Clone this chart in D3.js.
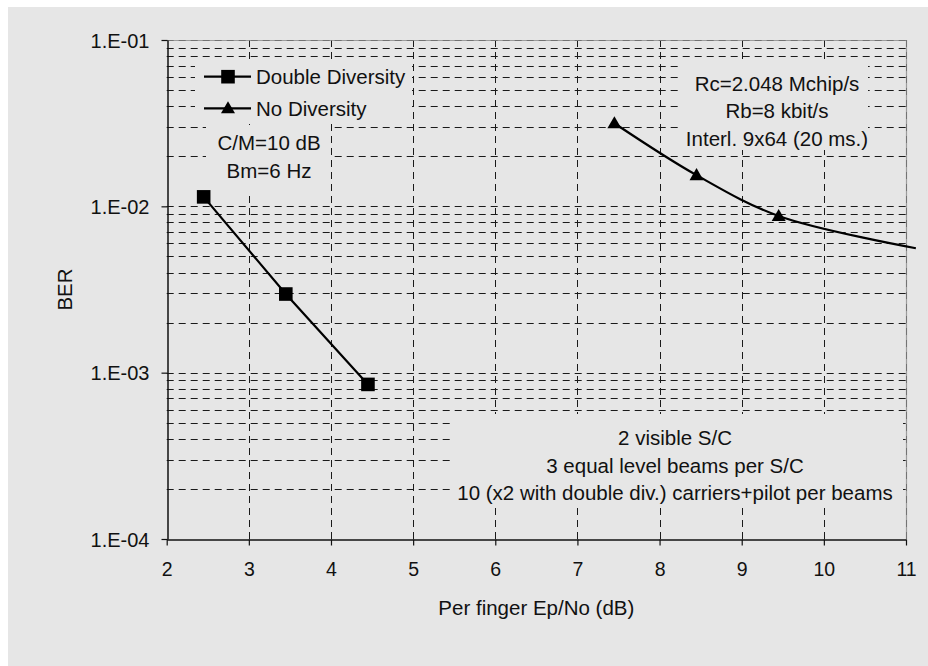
<!DOCTYPE html>
<html>
<head>
<meta charset="utf-8">
<script src="https://cdn.jsdelivr.net/npm/d3@7"></script>
<style>
  html, body { margin: 0; padding: 0; background: #ffffff; }
  svg { display: block; }
  text { font-family: "Liberation Sans", Arial, sans-serif; fill: #111; }
</style>
</head>
<body>
<script>
// ---- data ----
const xTickValues = [2, 3, 4, 5, 6, 7, 8, 9, 10, 11];
const yTickValues = [1e-4, 1e-3, 1e-2, 1e-1];
const yTickLabels = ["1.E-04", "1.E-03", "1.E-02", "1.E-01"];
const doubleDivX = [2.45, 3.45, 4.45];
const doubleDivBER = [0.0114, 0.00297, 0.00085];
const noDivX = [7.45, 8.45, 9.45, 11.12];
const noDivBER = [0.0316, 0.0154, 0.00875, 0.0056];
const seriesNames = ["Double Diversity", "No Diversity"];
const noteTopLeft = ["C/M=10 dB", "Bm=6 Hz"];
const noteTopRight = ["Rc=2.048 Mchip/s", "Rb=8 kbit/s", "Interl. 9x64 (20 ms.)"];
const noteBottom = ["2 visible S/C", "3 equal level beams per S/C", "10 (x2 with double div.) carriers+pilot per beams"];
const xTitle = "Per finger Ep/No (dB)";
const yTitle = "BER";

// ---- layout ----
const W = 928, H = 666;
const m = { left: 166.7, right: 22, top: 40, bottom: 127 };
const bg = "#e6e6e6";

const svg = d3.select("body").append("svg").attr("width", W).attr("height", H);
svg.append("rect").attr("x", 8).attr("y", 7).attr("width", W - 8).attr("height", H - 7).attr("fill", bg);

const x = d3.scaleLinear().domain([2, 11]).range([m.left, W - m.right]);
const y = d3.scaleLog().domain([1e-4, 1e-1]).range([H - m.bottom, m.top]);

// grid
const minorY = [];
for (let e = -4; e < -1; e++) for (let k = 1; k <= 10; k++) minorY.push(k * Math.pow(10, e));
const uniqY = Array.from(new Set(minorY.map(v => +v.toPrecision(3))));
const grid = svg.append("g").attr("stroke", "#1a1a1a").attr("stroke-width", 1).attr("stroke-dasharray", "7,5");
grid.selectAll("line.h").data(uniqY.filter(v => v > 1e-4)).join("line")
  .attr("x1", x(2)).attr("x2", x(11))
  .attr("y1", d => Math.round(y(d)) + 0.5).attr("y2", d => Math.round(y(d)) + 0.5);
grid.selectAll("line.v").data(xTickValues.filter(v => v > 2)).join("line")
  .attr("x1", d => Math.round(x(d)) + 0.5).attr("x2", d => Math.round(x(d)) + 0.5)
  .attr("y1", y(1e-1)).attr("y2", y(1e-4));

// plot border top/right (gray)
svg.append("path")
  .attr("d", `M${x(2)},${Math.round(y(1e-1)) + 0.5}H${Math.round(x(11)) + 0.5}V${y(1e-4)}`)
  .attr("fill", "none").attr("stroke", "#8a8a8a").attr("stroke-width", 1.2).attr("opacity", 0.8);

// text-box masks (cover gridlines behind labels)
const masks = [
  [195, 60, 412, 121],
  [206, 125, 330, 191],
  [678, 62, 868, 150],
  [452, 414, 903, 507]
];
svg.append("g").selectAll("rect").data(masks).join("rect")
  .attr("x", d => d[0]).attr("y", d => d[1])
  .attr("width", d => d[2] - d[0]).attr("height", d => d[3] - d[1])
  .attr("fill", bg);

const FF = '"Liberation Sans", Arial, sans-serif';
// axes
const xAxis = d3.axisBottom(x).tickValues(xTickValues).tickSize(6).tickSizeOuter(0).tickFormat(d3.format("d"));
const gx = svg.append("g").attr("transform", `translate(0,${Math.round(y(1e-4)) + 0.5})`).call(xAxis);
gx.select(".domain").attr("stroke", "#111").attr("stroke-width", 1.5);
gx.selectAll(".tick line").attr("stroke", "#111").attr("stroke-width", 1.2);
gx.selectAll(".tick text").attr("font-size", 19.5).attr("dy", "1.42em").attr("fill", "#111")
  .style("font-family", FF);

const yAxis = d3.axisLeft(y).tickValues(yTickValues).tickSize(6).tickSizeOuter(0)
  .tickFormat((d, i) => yTickLabels[i]);
const gy = svg.append("g").attr("transform", `translate(${Math.round(x(2)) + 0.5},0)`).call(yAxis);
gy.select(".domain").attr("stroke", "#111").attr("stroke-width", 1.5);
gy.selectAll(".tick line").attr("stroke", "#111").attr("stroke-width", 1.2);
gy.selectAll(".tick text").attr("font-size", 20).attr("x", -18).attr("dy", "0.35em").attr("fill", "#111")
  .style("font-family", FF);

// axis titles
svg.append("text").attr("x", (x(2) + x(11)) / 2).attr("y", 615).attr("text-anchor", "middle")
  .attr("font-size", 20.5).text(xTitle);
svg.append("text").attr("transform", `translate(${72},${(y(1e-1) + y(1e-4)) / 2}) rotate(-90)`)
  .attr("text-anchor", "middle").attr("font-size", 20.5).text(yTitle);

// series
const dd = doubleDivX.map((v, i) => ({ x: v, y: doubleDivBER[i] }));
const nd = noDivX.map((v, i) => ({ x: v, y: noDivBER[i] }));
svg.append("path").datum(dd).attr("fill", "none").attr("stroke", "#000").attr("stroke-width", 2.2)
  .attr("d", d3.line().x(d => x(d.x)).y(d => y(d.y)));
svg.append("path").datum(nd).attr("fill", "none").attr("stroke", "#000").attr("stroke-width", 2.2)
  .attr("d", d3.line().curve(d3.curveCatmullRom.alpha(0.5)).x(d => x(d.x)).y(d => y(d.y)));

const sq = d3.symbol().type(d3.symbolSquare).size(185);
const tri = d3.symbol().type(d3.symbolTriangle).size(85);
svg.append("g").selectAll("path").data(dd).join("path")
  .attr("transform", d => `translate(${x(d.x)},${y(d.y)})`).attr("d", sq).attr("fill", "#000");
svg.append("g").selectAll("path").data(nd.filter(d => d.x <= 11)).join("path")
  .attr("transform", d => `translate(${x(d.x)},${y(d.y) + 1})`).attr("d", tri).attr("fill", "#000");

// legend
const leg = svg.append("g");
const legRows = [76.7, 108.3];
const legSyms = [sq, tri];
legRows.forEach((ry, i) => {
  leg.append("line").attr("x1", 204).attr("x2", 251).attr("y1", ry).attr("y2", ry)
    .attr("stroke", "#000").attr("stroke-width", 2.2);
  leg.append("path").attr("transform", `translate(228,${ry + (i === 1 ? 1 : 0)})`).attr("d", legSyms[i]).attr("fill", "#000");
  leg.append("text").attr("x", 256).attr("y", ry).attr("dy", "0.36em").attr("font-size", 20.5).text(seriesNames[i]);
});

// annotations
function note(lines, cx, y0, step, fs) {
  const g = svg.append("g");
  lines.forEach((t, i) => g.append("text").attr("x", cx).attr("y", y0 + i * step)
    .attr("text-anchor", "middle").attr("font-size", fs).text(t));
}
note(noteTopLeft, 269, 150, 28, 20.5);
note(noteTopRight, 777, 90.7, 27.7, 20.5);
note(noteBottom, 675, 445, 27.5, 20.5);
</script>
</body>
</html>
